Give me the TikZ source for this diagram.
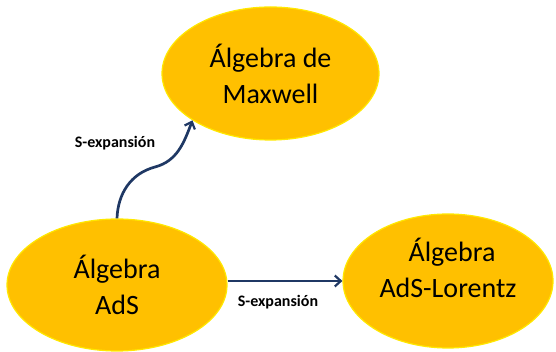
\documentclass[tikz,border=0pt]{standalone}
\usepackage{fontspec}
\setmainfont{Carlito}
\usetikzlibrary{shapes.geometric,arrows.meta}
\definecolor{algfill}{HTML}{FFC000}
\definecolor{algedge}{HTML}{FFE800}
\definecolor{arrcol}{HTML}{1F3864}
\begin{document}
\begin{tikzpicture}[x=1pt,y=1pt,
  alg/.style={ellipse,fill=algfill,draw=algedge,line width=1.2pt,inner sep=0pt,
    align=center,font=\fontsize{28}{36}\selectfont,text=black},
  arr/.style={draw=arrcol,line width=2.7pt,-{Straight Barb[length=6pt,width=11pt,line width=2.2pt]}},
  lab/.style={font=\fontsize{16}{19}\selectfont\bfseries,text=black,inner sep=0pt}]
\useasboundingbox (0,0) rectangle (556,352);
\node[alg,minimum width=217pt,minimum height=133pt] (M) at (270.5,278.5) {Álgebra de\\Maxwell};
\node[alg,minimum width=220pt,minimum height=132pt] (L) at (117,67) {Álgebra\\AdS};
\node[alg,minimum width=210pt,minimum height=134pt] (R) at (448,71)
  {\raisebox{9pt}[\height][\depth]{\begin{tabular}{@{}c@{}}\hspace*{8pt}Álgebra\\AdS-Lorentz\end{tabular}}};
\coordinate (mid) at (155,185);
\draw[arr] (L.north) to[out=88,in=195] (mid) to[out=15,in=249] (M.211);
\draw[arr] (L.east |- R.west) -- (R.west);
\node[lab] (l1) at (115,209) {S-expansión};
\node[lab] (l2) at (278,50) {S-expansión};
\end{tikzpicture}
\end{document}
